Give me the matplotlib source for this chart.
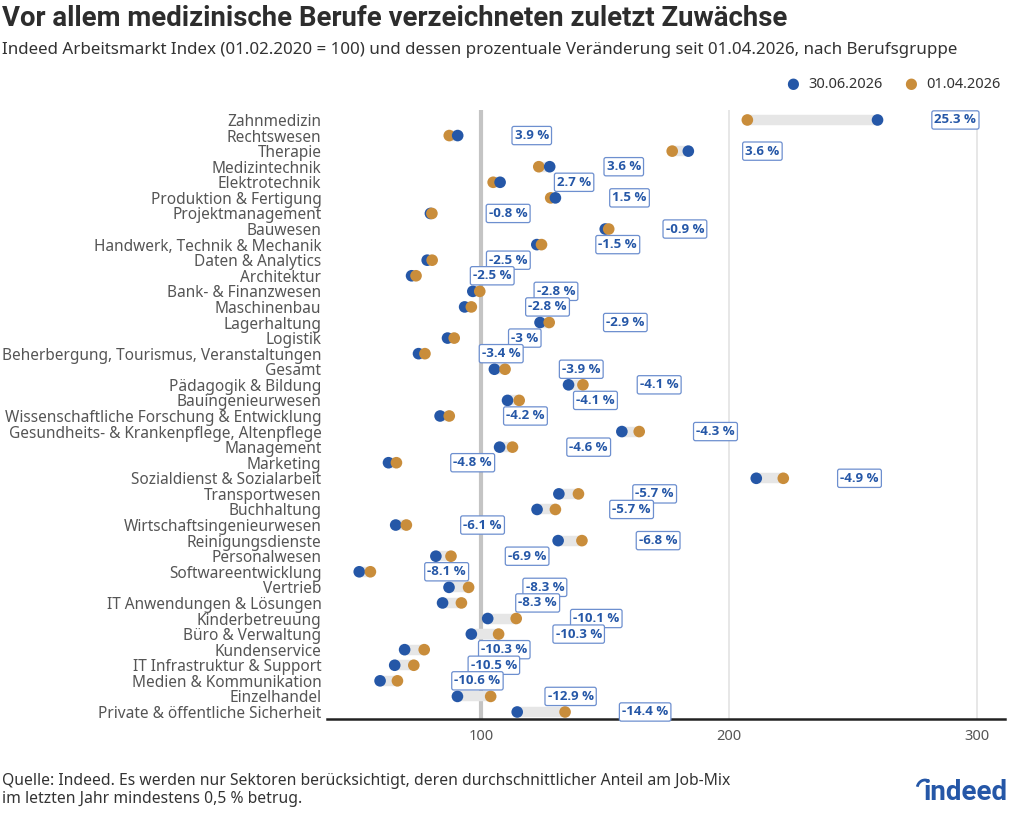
import numpy as np
import matplotlib
matplotlib.use('Agg')
import matplotlib.pyplot as plt
from matplotlib.patches import Arc

plt.rcParams['font.family'] = ['Noto Sans', 'DejaVu Sans']

# Index values per occupation group
categories = [
    "Zahnmedizin", "Rechtswesen", "Therapie", "Medizintechnik", "Elektrotechnik",
    "Produktion & Fertigung", "Projektmanagement", "Bauwesen",
    "Handwerk, Technik & Mechanik", "Daten & Analytics", "Architektur",
    "Bank- & Finanzwesen", "Maschinenbau", "Lagerhaltung", "Logistik",
    "Beherbergung, Tourismus, Veranstaltungen", "Gesamt", "Pädagogik & Bildung",
    "Bauingenieurwesen", "Wissenschaftliche Forschung & Entwicklung",
    "Gesundheits- & Krankenpflege, Altenpflege", "Management", "Marketing",
    "Sozialdienst & Sozialarbeit", "Transportwesen", "Buchhaltung",
    "Wirtschaftsingenieurwesen", "Reinigungsdienste", "Personalwesen",
    "Softwareentwicklung", "Vertrieb", "IT Anwendungen & Lösungen",
    "Kinderbetreuung", "Büro & Verwaltung", "Kundenservice",
    "IT Infrastruktur & Support", "Medien & Kommunikation", "Einzelhandel",
    "Private & öffentliche Sicherheit",
]
val_jun = [259.9, 90.6, 183.6, 127.7, 107.7, 130.0, 79.6, 150.1, 122.5, 78.3,
           72.0, 96.7, 93.4, 123.8, 86.5, 74.8, 105.4, 135.3, 110.7, 83.5,
           156.8, 107.5, 62.7, 211.0, 131.4, 122.6, 65.6, 131.1, 81.8,
           50.9, 87.1, 84.5, 102.7, 96.1, 69.2, 65.2, 59.3, 90.5, 114.6]
val_apr = [207.4, 87.2, 177.1, 123.3, 104.9, 128.1, 80.2, 151.5, 124.4, 80.3,
           73.8, 99.5, 96.1, 127.5, 89.2, 77.4, 109.7, 141.1, 115.4, 87.2,
           163.8, 112.7, 65.9, 221.9, 139.3, 130.0, 69.9, 140.7, 87.9,
           55.4, 95.0, 92.1, 114.2, 107.1, 77.1, 72.9, 66.3, 103.9, 133.9]
pct_change = [25.3, 3.9, 3.6, 3.6, 2.7, 1.5, -0.8, -0.9, -1.5, -2.5, -2.5,
              -2.8, -2.8, -2.9, -3, -3.4, -3.9, -4.1, -4.1, -4.2, -4.3, -4.6,
              -4.8, -4.9, -5.7, -5.7, -6.1, -6.8, -6.9, -8.1, -8.3, -8.3,
              -10.1, -10.3, -10.3, -10.5, -10.6, -12.9, -14.4]

BLUE = '#2557a7'
ORANGE = '#c98d3b'
TXT = '#555555'
BOLD = ['Open Sans', 'DejaVu Sans']

jun = np.array(val_jun)
apr = np.array(val_apr)
y = np.arange(len(categories))

fig = plt.figure(figsize=(10.24, 8.19), dpi=100)
ax = fig.add_axes([327 / 1024, 1 - 719 / 819, 678 / 1024, 609 / 819])

# grid / reference lines
for gx in [200, 300]:
    ax.axvline(gx, color='#e3e3e3', lw=1.2, zorder=0)
ax.axvline(100, color='#c4c4c4', lw=3, zorder=0)

# connecting bars
ax.hlines(y, np.minimum(jun, apr), np.maximum(jun, apr), color='#e6e6e6',
          lw=7.5, zorder=1)

# left dot first, right dot on top
left_is_jun = jun <= apr
left_x = np.where(left_is_jun, jun, apr)
right_x = np.where(left_is_jun, apr, jun)
left_c = [BLUE if b else ORANGE for b in left_is_jun]
right_c = [ORANGE if b else BLUE for b in left_is_jun]
ax.scatter(left_x, y, s=70, c=left_c, zorder=2, linewidths=0)
ax.scatter(right_x, y, s=70, c=right_c, zorder=3, linewidths=0)

# percentage labels
for yi, xm, p in zip(y, right_x, pct_change):
    ax.annotate(f"{p:g} %", xy=(xm, yi), xytext=(41, 0), textcoords='offset points',
                ha='left', va='center', fontsize=9.5, fontweight='bold', color=BLUE,
                family=BOLD,
                bbox=dict(boxstyle='round,pad=0.2,rounding_size=0.15', fc='white',
                          ec='#6d8fcf', lw=0.9), zorder=4)

ax.set_xlim(37.9, 311.3)
ax.set_ylim(38.45, -0.64)
ax.set_yticks(y)
ax.set_yticklabels(categories, fontsize=11.1, color=TXT)
ax.set_xticks([100, 200, 300])
ax.tick_params(axis='y', length=0, pad=4)
ax.tick_params(axis='x', length=0, pad=7, labelsize=10.5, labelcolor=TXT)
for s in ['top', 'right', 'left']:
    ax.spines[s].set_visible(False)
ax.spines['bottom'].set_linewidth(1.8)
ax.spines['bottom'].set_color('#222222')

# titles
fig.text(0.002, 1 - 18 / 819, "Vor allem medizinische Berufe verzeichneten zuletzt Zuwächse",
         fontsize=19.8, fontweight='bold', family=['Roboto', 'DejaVu Sans'],
         color='#2d2d2d', va='center', ha='left')
fig.text(0.002, 1 - 50 / 819,
         "Indeed Arbeitsmarkt Index (01.02.2020 = 100) und dessen prozentuale Veränderung seit 01.04.2026, nach Berufsgruppe",
         fontsize=12.2, color='#333333', va='center', ha='left')

# legend
lx = [793, 911]
for px, col, lab in zip(lx, [BLUE, ORANGE], ["30.06.2026", "01.04.2026"]):
    fig.text(px / 1024, 1 - 84 / 819, "\u25CF", color=col, fontsize=10.5,
             ha='center', va='center', family='DejaVu Sans')
    fig.text((px + 15) / 1024, 1 - 84 / 819, lab, color='#333333', fontsize=10.5,
             ha='left', va='center')

# footer
fig.text(0.002, 1 - 781 / 819,
         "Quelle: Indeed. Es werden nur Sektoren berücksichtigt, deren durchschnittlicher Anteil am Job-Mix",
         fontsize=11.3, color='#333333', va='center', ha='left')
fig.text(0.002, 1 - 799 / 819, "im letzten Jahr mindestens 0,5 % betrug.",
         fontsize=11.3, color='#333333', va='center', ha='left')

# logo
fig.text(1008 / 1024, 1 - 793 / 819, "indeed", fontsize=20, fontweight='bold',
         family=['Roboto', 'DejaVu Sans'], color='#2557a7', ha='right', va='center')
fig.add_artist(Arc((925 / 1024, 1 - 789 / 819), 16 / 1024, 18 / 819, theta1=70, theta2=160,
                   transform=fig.transFigure, color='#2557a7', lw=2))

fig.savefig('out.png', dpi=100)
